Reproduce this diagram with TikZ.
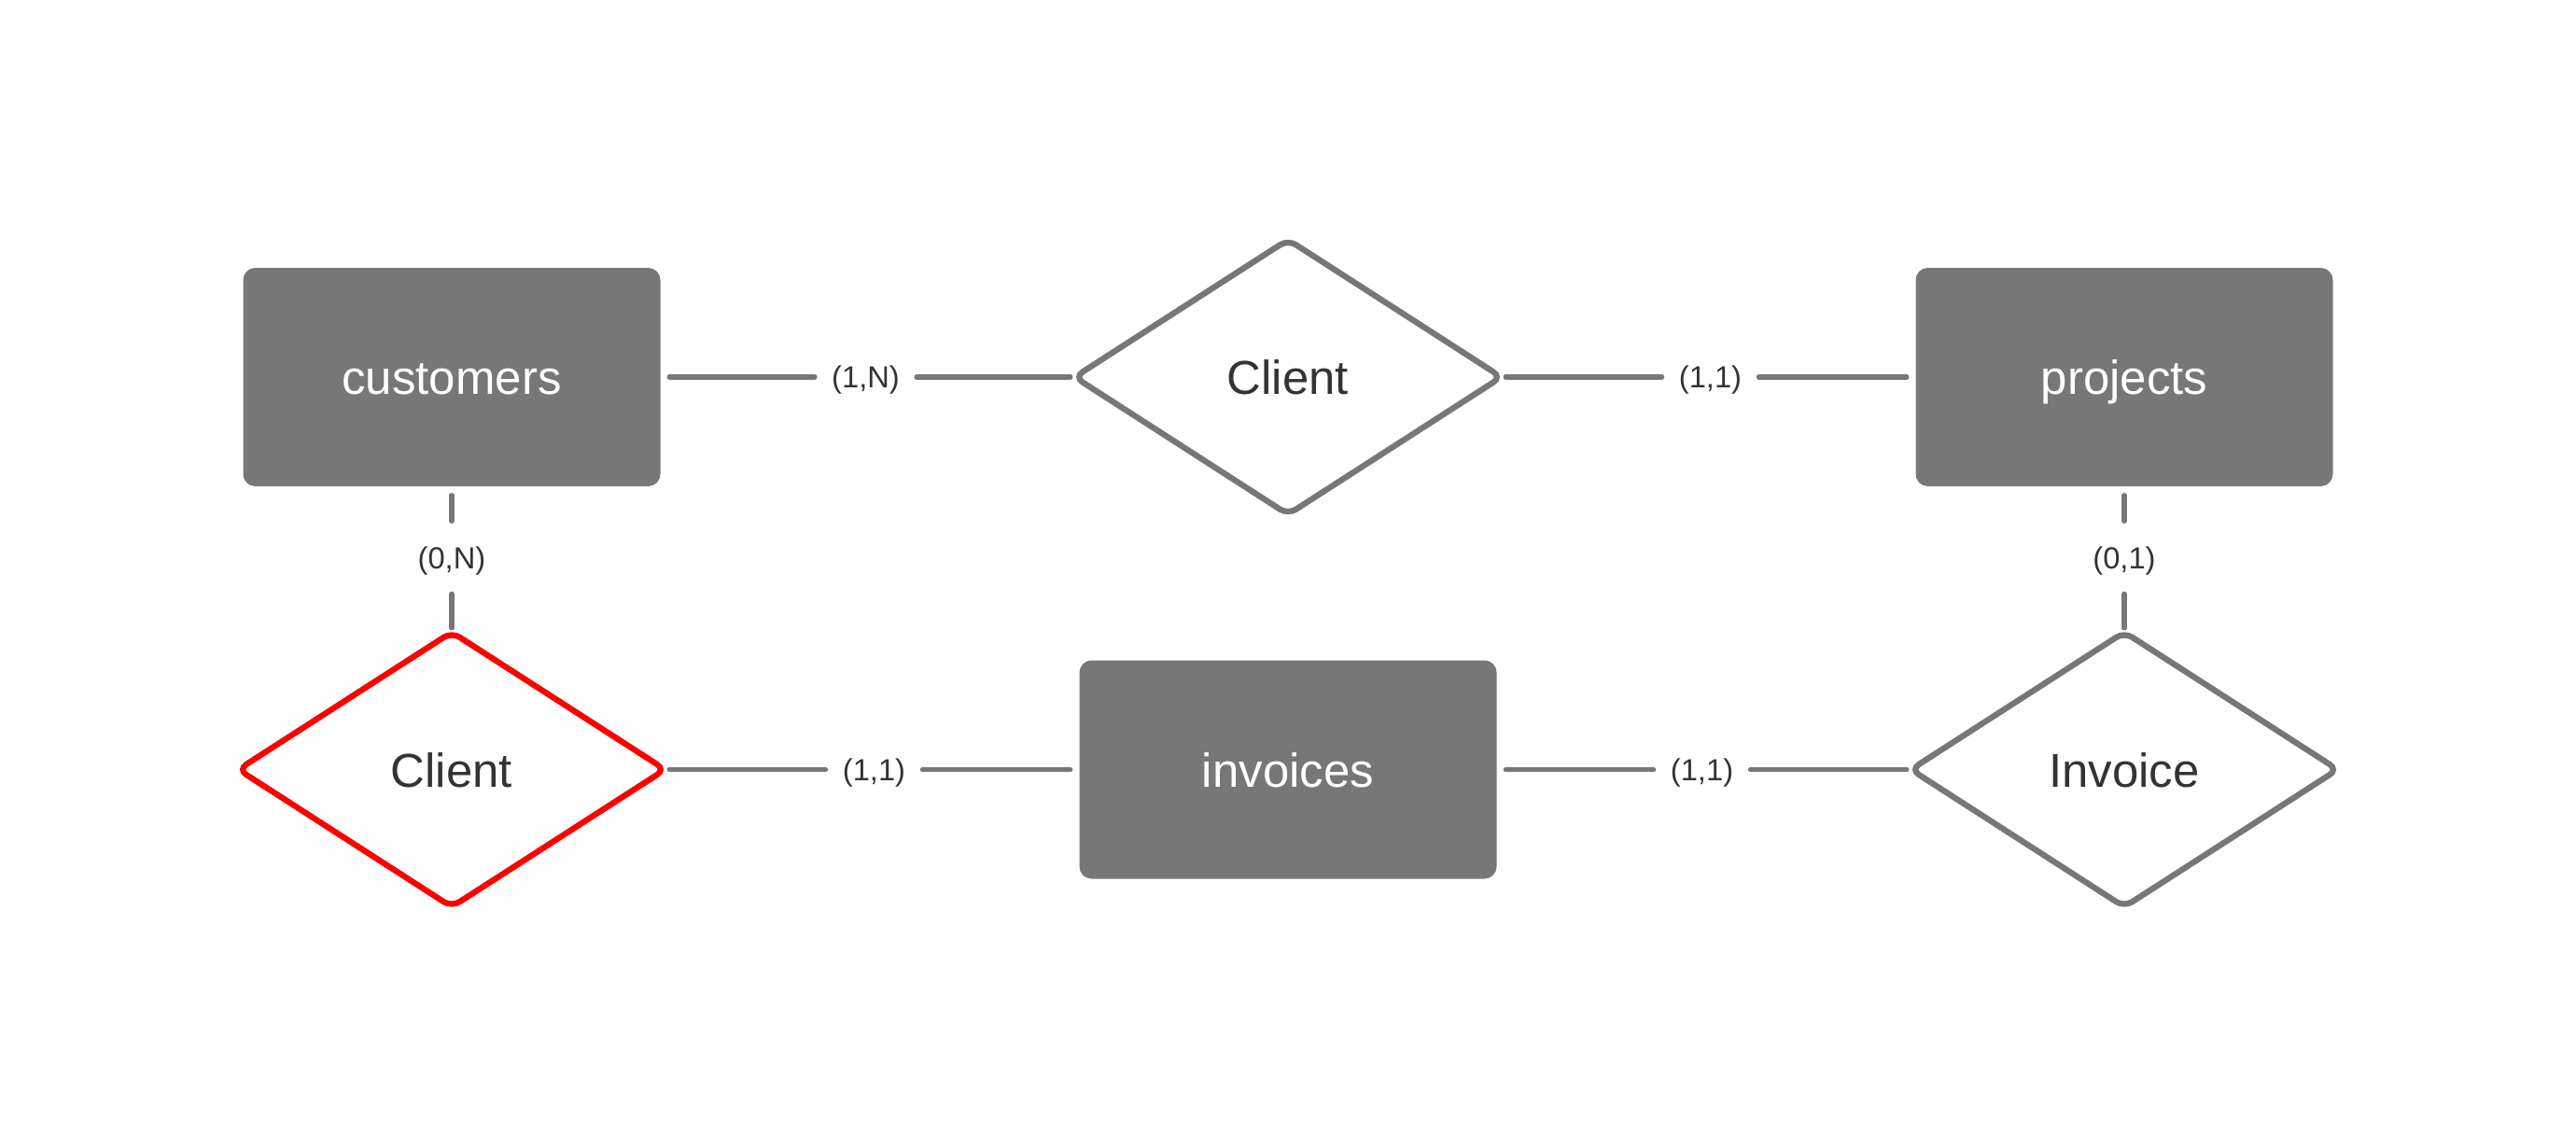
\documentclass[tikz,border=0pt]{standalone}
\usepackage{fontspec}
\setmainfont{Liberation Sans}
\usetikzlibrary{shapes.geometric}

\definecolor{boxgray}{HTML}{777777}
\definecolor{txtdark}{HTML}{333333}
\definecolor{relred}{HTML}{FF0000}

\begin{document}
\begin{tikzpicture}[
        entity/.style={rectangle, rounded corners=0.13cm, fill=boxgray, draw=none,
            minimum width=4.47cm, minimum height=2.34cm, text=white,
            text height=10.8pt, text depth=0pt,
            font=\fontsize{14.5}{17}\selectfont},
        relation/.style={diamond, rounded corners=0.1cm, draw=boxgray, line width=1.8pt,
            fill=white, minimum width=4.6cm, minimum height=2.97cm, inner sep=0pt,
            text height=10.8pt, text depth=0pt,
            text=txtdark, font=\fontsize{14.5}{17}\selectfont},
        card/.style={inner xsep=5pt, inner ysep=7.5pt, text=txtdark,
            text height=6.8pt, text depth=0pt,
            font=\fontsize{9.3}{11}\selectfont},
        conn/.style={draw=boxgray, line width=1.5pt, line cap=round},
        from box/.style={shorten <=0.09cm},
        to box/.style={shorten >=0.09cm},
    ]
        \useasboundingbox (0,0) rectangle (27.6,-12.3);

        % Entities and relations
        \node[entity] (customers) at (4.84,-4.04) {customers};
        \node[relation] (client1) at (13.80,-4.04) {Client};
        \node[entity] (projects) at (22.76,-4.04) {projects};
        \node[relation, draw=relred] (client2) at (4.84,-8.245) {Client};
        \node[entity] (invoices) at (13.80,-8.245) {invoices};
        \node[relation] (invoice) at (22.76,-8.245) {Invoice};

        % Cardinalities
        \path (customers) -- node[card] (c1) {(1,N)} (client1);
        \path (client1) -- node[card] (c2) {(1,1)} (projects);
        \path (customers) -- node[card] (c3) {(0,N)} (client2);
        \path (projects) -- node[card] (c4) {(0,1)} (invoice);
        \path (client2) -- node[card] (c5) {(1,1)} (invoices);
        \path (invoices) -- node[card] (c6) {(1,1)} (invoice);

        \draw[conn, from box] (customers) -- (c1);
        \draw[conn] (c1) -- (client1);
        \draw[conn] (client1) -- (c2);
        \draw[conn, to box] (c2) -- (projects);
        \draw[conn, from box] (customers) -- (c3);
        \draw[conn] (c3) -- (client2);
        \draw[conn, from box] (projects) -- (c4);
        \draw[conn] (c4) -- (invoice);
        \draw[conn] (client2) -- (c5);
        \draw[conn, to box] (c5) -- (invoices);
        \draw[conn, from box] (invoices) -- (c6);
        \draw[conn] (c6) -- (invoice);

    \end{tikzpicture}
\end{document}
